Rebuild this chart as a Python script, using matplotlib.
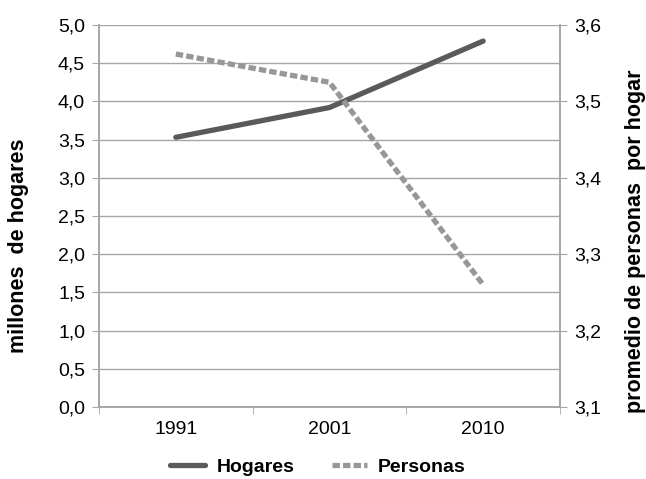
import matplotlib
matplotlib.use("Agg")
import matplotlib.pyplot as plt

plt.rcParams['font.family'] = ['Liberation Sans', 'DejaVu Sans']

years = ['1991', '2001', '2010']
hogares = [3.53, 3.92, 4.79]
personas = [3.562, 3.525, 3.26]
left_ticks = [0.0, 0.5, 1.0, 1.5, 2.0, 2.5, 3.0, 3.5, 4.0, 4.5, 5.0]
right_ticks = [3.1, 3.2, 3.3, 3.4, 3.5, 3.6]

grid_c = '#a6a6a6'

fig = plt.figure(figsize=(6.46, 4.79), dpi=100)
ax = fig.add_axes([99 / 646, 1 - 407 / 479, 461 / 646, 382 / 479])
ax2 = ax.twinx()

x = list(range(len(years)))
l1, = ax.plot(x, hogares, color='#5a5a5a', lw=3.8, solid_capstyle='round', label='Hogares', zorder=3)
l2, = ax2.plot(x, personas, color='#979797', lw=3.8, ls=(0, (1.4, 0.6)), label='Personas', zorder=3)

ax.set_xlim(-0.5, 2.5)
ax.set_ylim(0, 5)
ax2.set_ylim(3.1, 3.6)

ax.set_yticks(left_ticks)
ax.set_yticklabels([f'{v:.1f}'.replace('.', ',') for v in left_ticks])
ax2.set_yticks(right_ticks)
ax2.set_yticklabels([f'{v:.1f}'.replace('.', ',') for v in right_ticks])

ax.set_xticks(x)
ax.set_xticklabels(years)
ax.set_xticks([-0.5, 0.5, 1.5, 2.5], minor=True)
ax.tick_params(axis='x', which='major', length=0, labelsize=14, pad=10)
ax.tick_params(axis='x', which='minor', length=5, color=grid_c)
ax.tick_params(axis='y', length=5, color=grid_c, labelsize=14, pad=5)
ax2.tick_params(axis='y', length=5, color=grid_c, labelsize=14, pad=5)

ax.grid(axis='y', color=grid_c, lw=1)
ax.set_axisbelow(True)
for a in (ax, ax2):
    a.spines['top'].set_visible(False)
    for s in ('left', 'right', 'bottom'):
        a.spines[s].set_color(grid_c)
        a.spines[s].set_linewidth(1.2)

fig.text(19 / 646, 1 - 246 / 479, 'millones  de hogares', rotation=90, ha='center', va='center',
         fontsize=15.5, fontweight='bold')
fig.text(636 / 646, 1 - 241 / 479, 'promedio de personas  por hogar', rotation=90, ha='center',
         va='center', fontsize=15.5, fontweight='bold')

# legend sits at the very bottom, kept just inside the image
leg = fig.legend(handles=[l1, l2], loc='center', bbox_to_anchor=(318 / 646, 1 - 467 / 479), ncol=2,
                 frameon=False, prop={'weight': 'bold', 'size': 14}, handlelength=1.8,
                 columnspacing=1.9, handletextpad=0.6, borderpad=0.2)

fig.savefig('out.png', dpi=100)
